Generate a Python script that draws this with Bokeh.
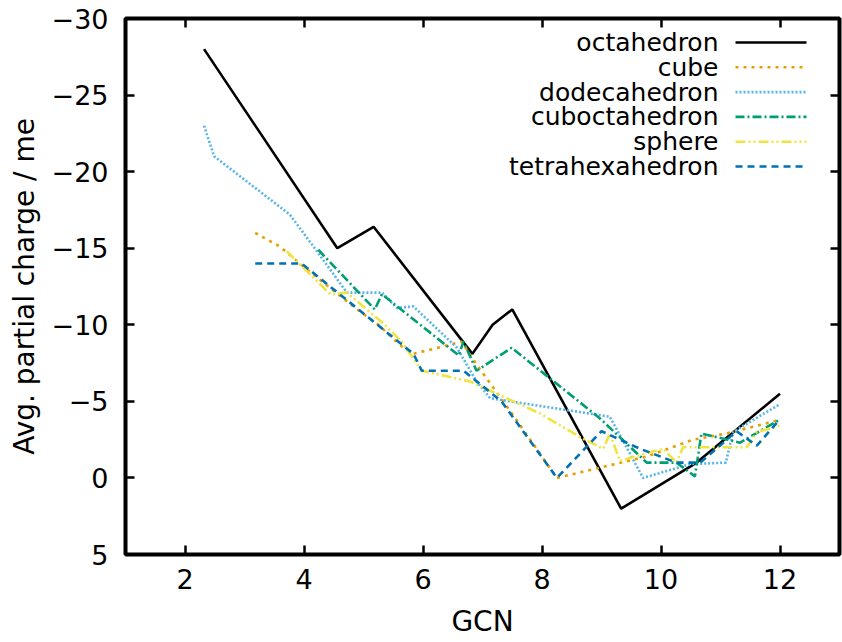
from bokeh.plotting import figure
from bokeh.models import Range1d, FixedTicker, LinearAxis, Label, Arrow
from bokeh.embed import file_html
from bokeh.resources import INLINE

# ---- data ----
oct_x = [2.32, 4.56, 5.17, 6.83, 7.17, 7.50, 9.33, 10.60, 12.00]
oct_y = [-28.0, -15.0, -16.4, -8.1, -10.0, -11.0, 2.0, -1.0, -5.5]

cube_x = [3.18, 3.60, 3.93, 4.41, 4.86, 5.25, 5.64, 5.84, 6.65, 6.90, 7.46, 8.25, 9.76, 10.54, 11.10, 12.00]
cube_y = [-16.0, -15.1, -14.0, -12.5, -11.1, -10.0, -8.6, -8.1, -8.9, -7.4, -4.4, 0.0, -1.4, -2.5, -2.9, -3.8]

dode_x = [2.32, 2.49, 3.76, 4.18, 4.72, 5.31, 5.56, 5.84, 6.57, 6.90, 7.13, 9.14, 9.70, 10.49, 11.09, 11.21, 11.99]
dode_y = [-23.0, -21.0, -17.2, -15.0, -12.1, -12.1, -11.1, -11.2, -8.5, -6.3, -5.2, -4.0, 0.0, -0.9, -1.0, -3.0, -4.8]

cubo_x = [4.24, 5.19, 5.31, 6.60, 6.68, 6.90, 7.49, 8.97, 9.76, 10.26, 10.57, 10.68, 11.33, 11.99]
cubo_y = [-14.9, -11.0, -12.0, -8.0, -8.9, -7.0, -8.5, -3.9, -1.0, -1.0, -0.1, -2.9, -2.3, -3.8]

sph_x = [3.71, 4.44, 4.72, 5.33, 5.64, 5.98, 6.79, 7.97, 8.67, 9.03, 9.14, 9.31, 9.65, 10.04, 10.26, 10.37, 11.44, 11.61, 11.99]
sph_y = [-14.8, -12.0, -12.1, -10.1, -8.9, -7.0, -6.3, -4.2, -2.6, -1.9, -2.9, -1.1, -1.5, -1.9, -1.0, -2.0, -2.0, -3.0, -3.4]

tetra_x = [3.18, 3.96, 5.84, 5.98, 6.68, 7.32, 8.25, 9.00, 9.65, 10.26, 10.66, 11.27, 11.61, 11.99]
tetra_y = [-14.0, -14.0, -8.1, -7.0, -7.0, -5.0, 0.0, -3.05, -1.9, -1.0, -1.0, -3.05, -2.1, -3.8]

names = ["octahedron", "cube", "dodecahedron", "cuboctahedron", "sphere", "tetrahexahedron"]
xs = [oct_x, cube_x, dode_x, cubo_x, sph_x, tetra_x]
ys = [oct_y, cube_y, dode_y, cubo_y, sph_y, tetra_y]
colors = ["#000000", "#e69f00", "#56b4e9", "#009e73", "#f0e442", "#0072b2"]
dashes = ["solid", "3 5", "2 2", "9 3 2 3", "10 3 2 3 2 3", "7 5"]

x_ticks = [2, 4, 6, 8, 10, 12]
y_ticks = [-30, -25, -20, -15, -10, -5, 0, 5]

FONT = "DejaVu Sans"
TICK_FS = "27px"
LABEL_FS = "28px"
LEG_FS = "25px"

p = figure(width=842, height=642, output_backend="svg", toolbar_location=None,
           x_range=Range1d(1, 13), y_range=Range1d(5, -30),
           min_border_left=125, min_border_right=3, min_border_top=18, min_border_bottom=88)
p.background_fill_color = "white"
p.border_fill_color = "white"
p.outline_line_color = "black"
p.outline_line_width = 4
p.xgrid.visible = False
p.ygrid.visible = False

def style_axis(ax, ticks, show_labels):
    ax.ticker = FixedTicker(ticks=ticks)
    ax.major_tick_in = 9
    ax.major_tick_out = 0
    ax.minor_tick_in = 0
    ax.minor_tick_out = 0
    ax.major_tick_line_width = 2.5
    ax.major_tick_line_color = "black"
    ax.axis_line_color = None
    if show_labels:
        ax.major_label_text_font = FONT
        ax.major_label_text_font_size = TICK_FS
        ax.major_label_text_color = "black"
        ax.axis_label_text_font = FONT
        ax.axis_label_text_font_size = LABEL_FS
        ax.axis_label_text_font_style = "normal"
        ax.axis_label_text_color = "black"
    else:
        ax.major_label_text_font_size = "1px"
        ax.major_label_text_alpha = 0
        ax.major_label_standoff = 0

xa = p.xaxis[0]
ya = p.yaxis[0]
style_axis(xa, x_ticks, True)
style_axis(ya, y_ticks, True)
xa.axis_label = "GCN"
ya.axis_label = "Avg. partial charge / me"
xa.major_label_standoff = 14
ya.major_label_standoff = 17
xa.axis_label_standoff = 13
ya.axis_label_standoff = 8
ya.major_label_overrides = {float(v): ("\u2212" + str(abs(v)) if v < 0 else str(v)) for v in y_ticks}

top = LinearAxis()
right = LinearAxis()
style_axis(top, x_ticks, False)
style_axis(right, y_ticks, False)
p.add_layout(top, "above")
p.add_layout(right, "right")

for name, x, y, c, d in zip(names, xs, ys, colors, dashes):
    p.line(x, y, line_color=c, line_width=2.6, line_dash=d)

# legend (placed in screen units, top right of the frame)
row0 = 24   # px below frame top
step = 24.8
for i, (name, c, d) in enumerate(zip(names, colors, dashes)):
    yy = 536 - (row0 + i * step)
    p.add_layout(Label(x=593, y=yy, x_units="screen", y_units="screen", text=name,
                       text_align="right", text_baseline="middle",
                       text_font=FONT, text_font_size=LEG_FS, text_color="black"))
    p.add_layout(Arrow(end=None, start=None, x_start=610, y_start=yy, x_end=681, y_end=yy,
                       start_units="screen", end_units="screen",
                       line_color=c, line_width=2.6, line_dash=d))

open("out.html", "w").write(file_html(p, INLINE))
